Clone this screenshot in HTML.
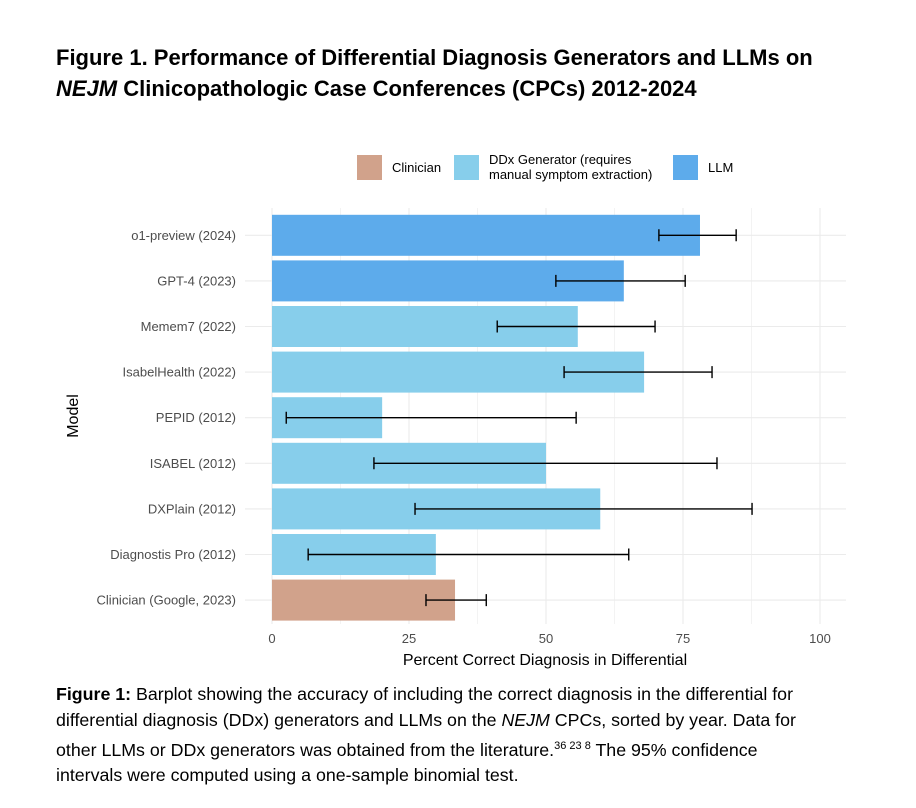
<!DOCTYPE html>
<html><head><meta charset="utf-8"><style>
body{margin:0;background:#fff;width:916px;height:808px;overflow:hidden;font-family:"Liberation Sans",sans-serif;}
#title{position:absolute;left:56px;top:42px;font-size:22px;font-weight:bold;line-height:31px;color:#000;white-space:nowrap;}
#caption{position:absolute;left:56px;top:682px;font-size:17.8px;line-height:25.8px;color:#000;white-space:nowrap;}
svg{position:absolute;left:0;top:0;}
</style></head><body>
<div id="title">Figure 1. Performance of Differential Diagnosis Generators and LLMs on<br><i>NEJM</i> Clinicopathologic Case Conferences (CPCs) 2012-2024</div>
<svg id="chart" width="916" height="808"></svg>
<div id="caption"><b>Figure 1:</b> Barplot showing the accuracy of including the correct diagnosis in the differential for<br>differential diagnosis (DDx) generators and LLMs on the <i>NEJM</i> CPCs, sorted by year. Data for<br>other LLMs or DDx generators was obtained from the literature.<sup style="font-size:11px">36 23 8</sup> The 95% confidence<br>intervals were computed using a one-sample binomial test.</div>
<script>
const categories=["o1-preview (2024)","GPT-4 (2023)","Memem7 (2022)","IsabelHealth (2022)","PEPID (2012)","ISABEL (2012)","DXPlain (2012)","Diagnostis Pro (2012)","Clinician (Google, 2023)"];
const values=[78.1,64.2,55.8,67.9,20.1,50.0,59.9,29.9,33.4];
const lower=[70.6,51.8,41.1,53.3,2.6,18.6,26.1,6.6,28.1];
const upper=[84.7,75.4,69.9,80.3,55.5,81.2,87.6,65.1,39.1];
const groups=["LLM","LLM","DDx","DDx","DDx","DDx","DDx","DDx","Clinician"];
const xTicks=[0,25,50,75,100];
const colors={LLM:"#5DABEB",DDx:"#87CEEB",Clinician:"#D1A28B"};
const NS="http://www.w3.org/2000/svg";
const svg=document.getElementById("chart");
const x0=272,x1=820,yTop=212.5,step=45.6;
const X=v=>x0+(x1-x0)*v/100;
const Y=i=>yTop+step*(i+0.5);
function mk(t,a,txt){const e=document.createElementNS(NS,t);for(const k in a)e.setAttribute(k,a[k]);if(txt!=null)e.textContent=txt;svg.appendChild(e);return e;}
for(let v=0;v<=100;v+=12.5){const g=mk("line",{x1:X(v),x2:X(v),y1:208,y2:624,stroke:"#ebebeb","stroke-width":v%25===0?1.1:0.6});

}
categories.forEach((c,i)=>{const g=mk("line",{x1:245,x2:846,y1:Y(i),y2:Y(i),stroke:"#ebebeb","stroke-width":1.1});

});
categories.forEach((c,i)=>{
const b=mk("rect",{x:X(0),y:Y(i)-20.5,width:X(values[i])-X(0),height:41,fill:colors[groups[i]]});


const e=mk("path",{d:`M${X(lower[i])},${Y(i)}H${X(upper[i])}M${X(lower[i])},${Y(i)-6}v12M${X(upper[i])},${Y(i)-6}v12`,stroke:"#000","stroke-width":1.4,fill:"none"});


const l=mk("text",{x:236,y:Y(i)+4.5,"text-anchor":"end","font-size":13,fill:"#4d4d4d"},c);


});
xTicks.forEach(v=>{const t=mk("text",{x:X(v),y:643,"text-anchor":"middle","font-size":13,fill:"#4d4d4d"},v);

});
const xt=mk("text",{x:545,y:665,"text-anchor":"middle","font-size":16,fill:"#000"},"Percent Correct Diagnosis in Differential");


const yt=mk("text",{x:0,y:0,"text-anchor":"middle","font-size":16,fill:"#000",transform:"translate(78,416) rotate(-90)"},"Model");


const leg=[["Clinician",357,colors.Clinician,["Clinician"]],["DDx",454,colors.DDx,["DDx Generator (requires","manual symptom extraction)"]],["LLM",673,colors.LLM,["LLM"]]];
leg.forEach(([k,lx,col,lines])=>{
const s=mk("rect",{x:lx,y:155,width:25,height:25,fill:col});


lines.forEach((ln,j)=>{const t=mk("text",{x:lx+35,y:lines.length>1?164+j*15:172,"font-size":13,fill:"#000"},ln);

});
});
</script>
</body></html>
